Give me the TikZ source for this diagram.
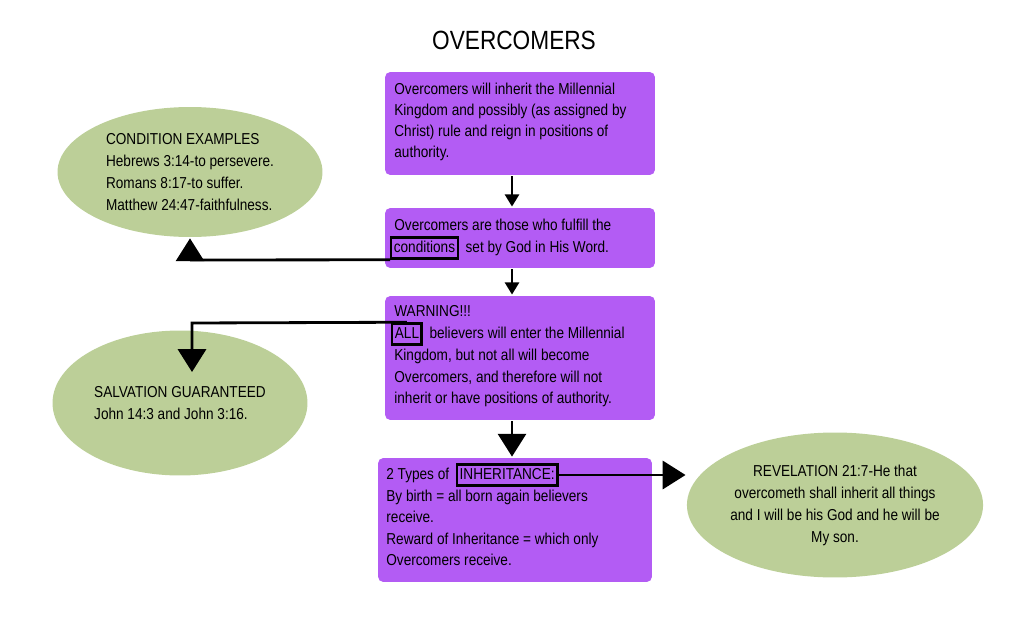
\documentclass[tikz,border=0pt]{standalone}
\usepackage{fontspec}
\newfontfamily\hand[FakeStretch=0.86]{Liberation Sans}
\usetikzlibrary{arrows.meta,shapes.geometric,positioning}
\definecolor{boxpurple}{HTML}{B35CF4}
\definecolor{leafgreen}{HTML}{BCCF98}
\begin{document}
\begin{tikzpicture}[x=0.02cm,y=-0.02cm,line width=1.6pt]
  \tikzstyle{panel}=[fill=boxpurple,rounded corners=3pt,minimum width=5.4cm,inner sep=0pt]
  \tikzstyle{oval}=[ellipse,fill=leafgreen,inner sep=0pt,font=\hand\fontsize{9}{12.5}\selectfont]
  \tikzstyle{txt}=[anchor=west,inner sep=0pt,text height=7pt,text depth=2pt,font=\hand\fontsize{9}{12}\selectfont]
  \tikzstyle{word}=[draw,line width=1.4pt,inner sep=1.5pt,text height=7pt,text depth=2pt,font=\hand\fontsize{9}{12}\selectfont]
  \tikzstyle{small}=[-{Triangle[length=7pt,width=8pt]}]
  \tikzstyle{big}=[-{Triangle[length=13pt,width=16pt]}]
  \useasboundingbox (0,0) rectangle (1024,639);
  \node[font=\hand\fontsize{15}{18}\selectfont] (title) at (514,40) {OVERCOMERS};
  % purple panels
  \node[panel,minimum height=2.06cm] (P_1) at (520,123.5) {};
  \node[panel,minimum height=1.2cm] (P_2) at (520,238) {};
  \node[panel,minimum height=2.48cm] (P_3) at (520,358) {};
  \node[panel,minimum width=5.48cm,minimum height=2.48cm] (P_4) at (515,520) {};
  % green ovals
  \node[oval,minimum width=5.3cm,minimum height=2.6cm,align=left] (E_1) at (190,172)
    {CONDITION EXAMPLES\\Hebrews 3:14-to persevere.\\Romans 8:17-to suffer.\\Matthew 24:47-faithfulness.};
  \node[oval,minimum width=5.1cm,minimum height=2.9cm,align=left] (E_2) at (180,403)
    {SALVATION GUARANTEED\\John 14:3 and John 3:16.};
  \node[oval,minimum width=5.8cm,minimum height=2.9cm,align=center] (E_3) at (835,505)
    {REVELATION 21:7-He that\\overcometh shall inherit all things\\and I will be his God and he will be\\My son.};
  % panel texts
  \node[txt] (L_1) at (393,90) {Overcomers will inherit the Millennial};
  \node[txt] (L_2) at (393,111) {Kingdom and possibly (as assigned by};
  \node[txt] (L_3) at (393,132) {Christ) rule and reign in positions of};
  \node[txt] (L_4) at (393,153) {authority.};
  \node[txt] (L_5) at (393,226) {Overcomers are those who fulfill the};
  \node[word,anchor=west] (cond) at (390,248) {conditions};
  \node[txt,right=3pt of cond] (L_6) {set by God in His Word.};
  \node[txt] (L_7) at (393,312) {WARNING!!!};
  \node[word,anchor=west] (all) at (391,334) {ALL};
  \node[txt,right=3pt of all] (L_8) {believers will enter the Millennial};
  \node[txt] (L_9) at (393,356) {Kingdom, but not all will become};
  \node[txt] (L_10) at (393,378) {Overcomers, and therefore will not};
  \node[txt] (L_11) at (393,399) {inherit or have positions of authority.};
  \node[txt] (L_12) at (385,475) {2 Types of};
  \node[word,right=3pt of L_12] (inh) {INHERITANCE:};
  \node[txt] (L_13) at (385,497) {By birth = all born again believers};
  \node[txt] (L_14) at (385,518) {receive.};
  \node[txt] (L_15) at (385,540) {Reward of Inheritance = which only};
  \node[txt] (L_16) at (385,561) {Overcomers receive.};
  % connectors
  \draw[small] (P_1.south -| 512,0) -- (P_2.north -| 512,0);
  \draw[small] (P_2.south -| 512,0) -- (P_3.north -| 512,0);
  \draw[big] (P_3.south -| 512,0) -- (P_4.north -| 512,0);
  \draw[big] (cond.south west) -- (190,260) -- (E_1.south -| 190,0);
  \draw[big] (all.north) -- (192,323) -- (192,372);
  \draw[big] (inh.east) -- (E_3.west |- inh.east);
\end{tikzpicture}
\end{document}
